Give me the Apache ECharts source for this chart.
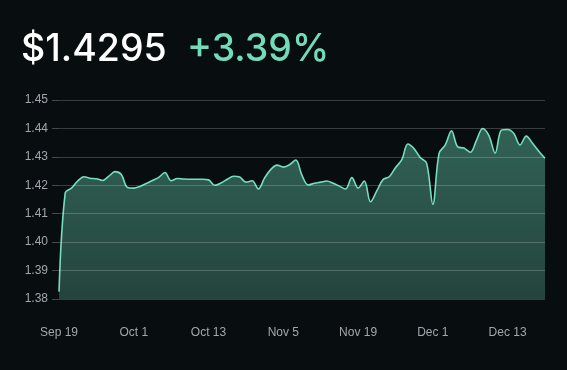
<!DOCTYPE html>
<html>
<head>
<meta charset="utf-8">
<script src="https://cdn.jsdelivr.net/npm/echarts@6/dist/echarts.min.js"></script>
<style>
html,body{margin:0;padding:0;background:#080d10;}
#c{width:567px;height:370px;}
</style>
</head>
<body>
<div id="c"></div>
<script>
const priceText = '$1.4295';
const changeText = '+3.39%';
const yTicks = [1.38, 1.39, 1.40, 1.41, 1.42, 1.43, 1.44, 1.45];
const dates = [
  'Sep 19','Sep 20','Sep 21','Sep 22','Sep 23','Sep 24','Sep 25','Sep 26','Sep 27','Sep 28','Sep 29','Sep 30',
  'Oct 1','Oct 2','Oct 3','Oct 4','Oct 5','Oct 6','Oct 7','Oct 8','Oct 9','Oct 10','Oct 11','Oct 12',
  'Oct 13','Oct 14','Oct 15','Oct 16','Oct 17','Oct 18','Oct 19','Oct 20','Nov 1','Nov 2','Nov 3','Nov 4',
  'Nov 5','Nov 6','Nov 7','Nov 8','Nov 9','Nov 10','Nov 11','Nov 12','Nov 13','Nov 14','Nov 15','Nov 16',
  'Nov 19','Nov 20','Nov 21','Nov 22','Nov 23','Nov 24','Nov 25','Nov 26','Nov 27','Nov 28','Nov 29','Nov 30',
  'Dec 1','Dec 2','Dec 3','Dec 4','Dec 5','Dec 6','Dec 7','Dec 8','Dec 9','Dec 10','Dec 11','Dec 12',
  'Dec 13','Dec 14','Dec 15','Dec 16','Dec 17','Dec 18','Dec 19'
];
const prices = [
  1.3826, 1.4173, 1.4190, 1.4215, 1.4230, 1.4225, 1.4223, 1.4217, 1.4232, 1.4248,
  1.4238, 1.4192, 1.4190, 1.4196, 1.4206, 1.4217, 1.4228, 1.4245, 1.4216, 1.4224,
  1.4222, 1.4221, 1.4221, 1.4221, 1.4219, 1.4200, 1.4208, 1.4221, 1.4232, 1.4229,
  1.4211, 1.4216, 1.4187, 1.4226, 1.4256, 1.4271, 1.4264, 1.4272, 1.4289, 1.4235,
  1.4201, 1.4207, 1.4211, 1.4215, 1.4207, 1.4197, 1.4187, 1.4227, 1.4190, 1.4215,
  1.4142, 1.4180, 1.4220, 1.4230, 1.4262, 1.4289, 1.4345, 1.4328, 1.4297, 1.4278,
  1.4133, 1.4312, 1.4342, 1.4392, 1.4335, 1.4331, 1.4316, 1.4358, 1.4400, 1.4375,
  1.4313, 1.4394, 1.4396, 1.4382, 1.4342, 1.4373, 1.4348, 1.4320, 1.4295
];

const chart = echarts.init(document.getElementById('c'), null, {renderer: 'canvas'});
chart.setOption({
  backgroundColor: '#080d10',
  animation: false,
  graphic: [
    {type: 'text', left: 21, top: 31, style: {text: priceText, fill: '#ffffff',
      font: '500 37.5px Inter'}},
    {type: 'text', left: 187, top: 31, style: {text: changeText, fill: '#72dcb8',
      font: '500 37.5px Inter'}}
  ],
  grid: {left: 59, right: 22, top: 100, bottom: 71},
  xAxis: {
    type: 'category',
    data: dates,
    boundaryGap: false,
    axisLine: {show: false},
    axisTick: {show: false},
    axisLabel: {interval: 11, color: '#a3a7ab', fontSize: 12, fontFamily: 'Liberation Sans', margin: 28},
    splitLine: {show: false}
  },
  yAxis: {
    type: 'value',
    min: yTicks[0], max: yTicks[yTicks.length - 1], interval: 0.01,
    z: 5,
    axisLine: {show: false},
    axisTick: {show: true, length: 7, lineStyle: {color: 'rgba(255,255,255,0.25)'}},
    axisLabel: {color: '#a3a7ab', fontSize: 12, fontFamily: 'Liberation Sans', margin: 11,
      formatter: v => v.toFixed(2)},
    splitLine: {show: true, lineStyle: {color: 'rgba(255,255,255,0.2)', width: 1}}
  },
  series: [{
    type: 'line',
    data: prices,
    smooth: 0.35,
    symbol: 'none',
    lineStyle: {color: '#74dfbb', width: 1.6},
    areaStyle: {
      color: new echarts.graphic.LinearGradient(0, 0, 0, 1, [
        {offset: 0, color: '#438672'},
        {offset: 1, color: '#305c51'}
      ])
    }
  }]
});
</script>
</body>
</html>
